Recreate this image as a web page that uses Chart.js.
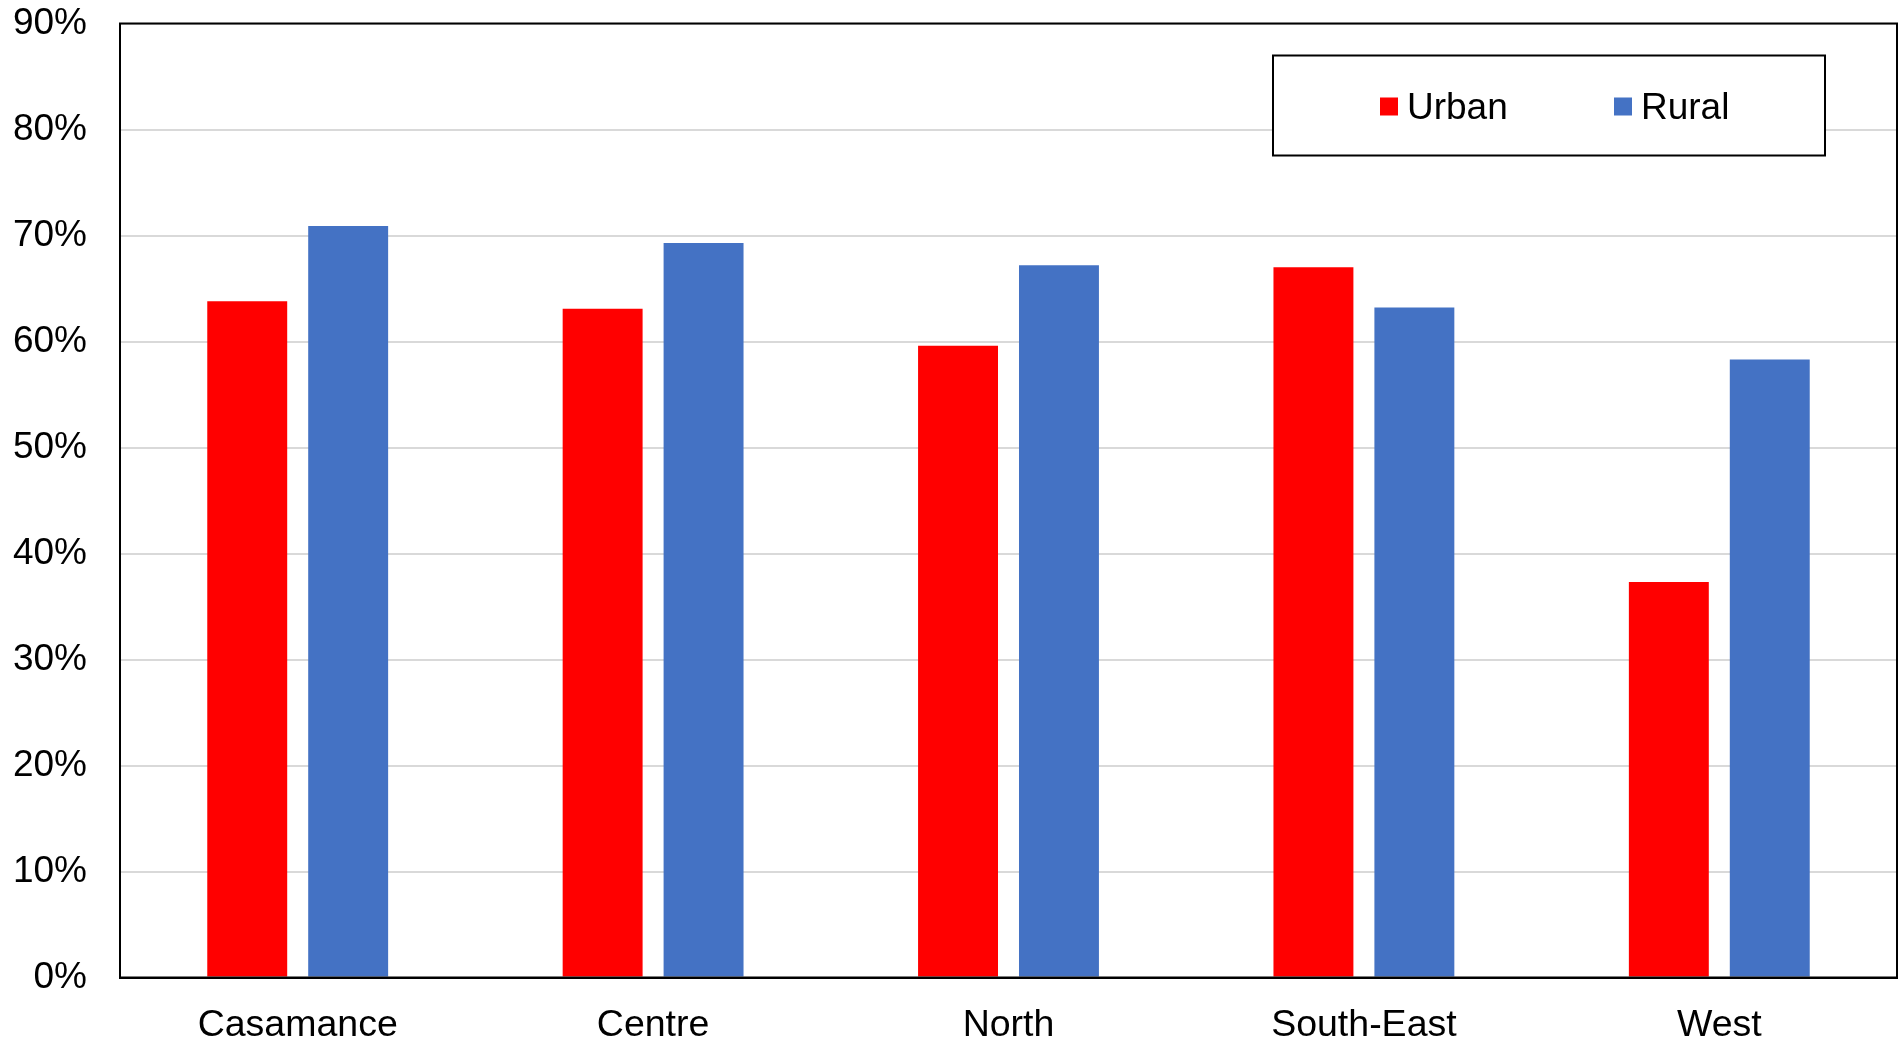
<!DOCTYPE html>
<html>
<head>
<meta charset="utf-8">
<script src="https://cdn.jsdelivr.net/npm/chart.js@4.4.1/dist/chart.umd.min.js"></script>
<style>
  html, body { margin: 0; padding: 0; background: #fff; }
  #chart { display: block; }
</style>
</head>
<body>
<canvas id="chart" width="1901" height="1042"></canvas>
<script>
// Data
const regions = ['Casamance', 'Centre', 'North', 'South-East', 'West'];
const urban = [63.8, 63.1, 59.6, 67.0, 37.3];
const rural = [70.9, 69.3, 67.2, 63.2, 58.3];
const yTicks = [0, 10, 20, 30, 40, 50, 60, 70, 80, 90];

const FONT = "'Liberation Sans', Arial, sans-serif";

// Frame round the plot area (top and right sides)
const frame = {
  id: 'frame',
  afterDraw(chart) {
    const { ctx, chartArea: a } = chart;
    ctx.save();
    ctx.strokeStyle = '#000';
    ctx.lineWidth = 2;
    ctx.strokeRect(a.left, a.top, a.right - a.left, a.bottom - a.top);
    ctx.restore();
  }
};

// Boxed legend inside the plot, top right
const boxLegend = {
  id: 'boxLegend',
  afterDraw(chart) {
    const { ctx, chartArea: a } = chart;
    const w = 552, h = 100;
    const x = a.right - 72 - w, y = a.top + 32;
    ctx.save();
    ctx.fillStyle = '#fff';
    ctx.fillRect(x, y, w, h);
    ctx.strokeStyle = '#000';
    ctx.lineWidth = 2;
    ctx.strokeRect(x, y, w, h);
    ctx.font = '37px ' + FONT;
    ctx.textBaseline = 'middle';
    let ix = x + 107;
    chart.data.datasets.forEach(ds => {
      ctx.fillStyle = ds.backgroundColor;
      ctx.fillRect(ix, y + h / 2 - 8, 18, 18);
      ctx.fillStyle = '#000';
      ctx.fillText(ds.label, ix + 27, y + h / 2 + 3);
      ix += 234;
    });
    ctx.restore();
  }
};

new Chart(document.getElementById('chart'), {
  type: 'bar',
  data: {
    labels: regions,
    datasets: [
      { label: 'Urban', data: urban, backgroundColor: '#ff0000' },
      { label: 'Rural', data: rural, backgroundColor: '#4472c4' }
    ]
  },
  options: {
    responsive: false,
    animation: false,
    categoryPercentage: 0.568,
    barPercentage: 0.792,
    layout: { padding: { top: 0, right: 4, left: 0, bottom: 0 } },
    plugins: {
      legend: { display: false },
      tooltip: { enabled: false }
    },
    scales: {
      x: {
        grid: { drawOnChartArea: false, drawTicks: false },
        border: { color: '#000', width: 2 },
        ticks: { color: '#000', font: { family: FONT, size: 37.5 }, padding: 26 },
        afterFit(scale) { scale.height = 64.5; }
      },
      y: {
        min: 0,
        max: 90,
        afterBuildTicks(scale) { scale.ticks = yTicks.map(v => ({ value: v })); },
        grid: { color: '#d9d9d9', lineWidth: 2, drawTicks: false },
        border: { color: '#000', width: 2 },
        ticks: {
          color: '#000',
          font: { family: FONT, size: 37 },
          padding: 33,
          callback: v => v + '%'
        },
        afterFit(scale) {
          scale.width = 120;
          scale.paddingTop = 23.5;
          scale.paddingBottom = 0;
        }
      }
    }
  },
  plugins: [frame, boxLegend]
});
</script>
</body>
</html>
